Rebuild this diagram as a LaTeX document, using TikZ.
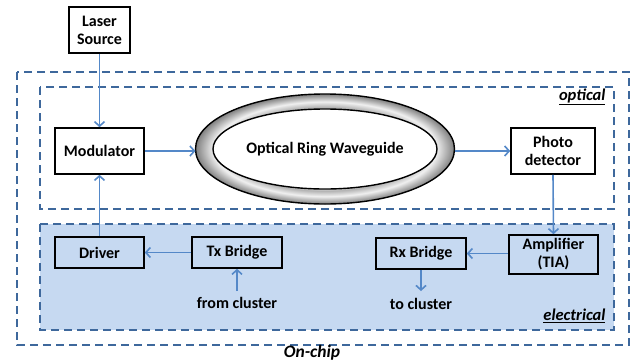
\documentclass[tikz,border=0pt]{standalone}
\usepackage{fontspec}
\setmainfont{Carlito}
\usetikzlibrary{arrows.meta}
\definecolor{dashblue}{RGB}{62,104,156}
\definecolor{elecfill}{RGB}{198,217,241}
\definecolor{arrowblue}{RGB}{84,136,200}
\pgfdeclareradialshading{ringshade}{\pgfpoint{0bp}{0bp}}{color(0bp)=(white); color(17bp)=(white); color(19bp)=(black!30); color(21.5bp)=(black!6); color(25bp)=(black!50); color(50bp)=(black!50)}
\tikzset{
  region/.style={draw=dashblue, line width=2.2pt, dash pattern=on 8pt off 5pt},
  blk/.style={draw=black, line width=1.6pt, fill=white, minimum height=46pt, align=center, font=\fontsize{16}{18}\selectfont\bfseries, inner sep=2pt},
  eblk/.style={blk, fill=elecfill},
  conn/.style={draw=arrowblue, line width=1.6pt, -{Straight Barb[length=4.5pt,width=10pt,line width=1.6pt]}},
  lbl/.style={font=\fontsize{16}{18}\selectfont\bfseries},
  tag/.style={font=\fontsize{16.5}{18}\selectfont\bfseries\itshape}
}
\begin{document}
\begin{tikzpicture}[x=1pt,y=-1pt]
\useasboundingbox (0,0) rectangle (633,362);
% regions
\draw[region] (17,72) rectangle (629,345);
\draw[region] (40,87) rectangle (614,209);
\draw[region, fill=elecfill] (40,224) rectangle (614,330);
% blocks
\node[blk, minimum width=61pt] (laser) at (99.5,30) {Laser\\Source};
\node[blk, minimum width=89pt] (mod) at (99.5,151) {Modulator};
\node[blk, minimum width=84pt] (pd) at (553,151) {Photo\\detector};
\node[eblk, minimum width=89pt, minimum height=39pt] (amp) at (553.5,254.5) {Amplifier\\(TIA)};
\node[eblk, minimum width=90pt, minimum height=31pt] (rx) at (421,253.5) {Rx Bridge};
\node[eblk, minimum width=89pt, minimum height=31pt] (drv) at (99.5,252.5) {Driver};
\node[eblk, minimum width=90pt, minimum height=31pt] (tx) at (237,252.5) {Tx Bridge};
% ring
\fill[shading=ringshade, draw=black, line width=1.4pt] (325,149) ellipse [x radius=129.5, y radius=55];
\draw[fill=white, line width=1.4pt] (325,149) ellipse [x radius=112, y radius=40];
\node[lbl] (ring) at (325,149) {Optical Ring Waveguide};
\coordinate (ringL) at (195.5,151);
\coordinate (ringR) at (454.5,151);
% free labels
\node[lbl] (from) at (237,303) {from cluster};
\node[lbl] (to) at (421,304) {to cluster};
\coordinate (fromtop) at (237,291);
\coordinate (tobot) at (421,291);
\node[tag, anchor=east] (opt) at (609,97) {\underline{optical}};
\node[tag, anchor=east] (elec) at (609,316) {\underline{electrical}};
\node[tag, font=\fontsize{17.5}{19}\selectfont\bfseries\itshape] (chip) at (312,353) {On-chip};
% connectors
\draw[conn] (laser.south) -- (mod.north);
\draw[conn] (mod.east |- ringL) -- (ringL);
\draw[conn] (ringR) -- (pd.west |- ringR);
\draw[conn] (pd.south) -- (amp.north);
\draw[conn] (amp.west |- rx.east) -- (rx.east);
\draw[conn] (tx.west) -- (drv.east);
\draw[conn] (drv.north) -- (mod.south);
\draw[conn] (fromtop) -- (tx.south);
\draw[conn] (rx.south) -- (tobot);
\end{tikzpicture}
\end{document}
